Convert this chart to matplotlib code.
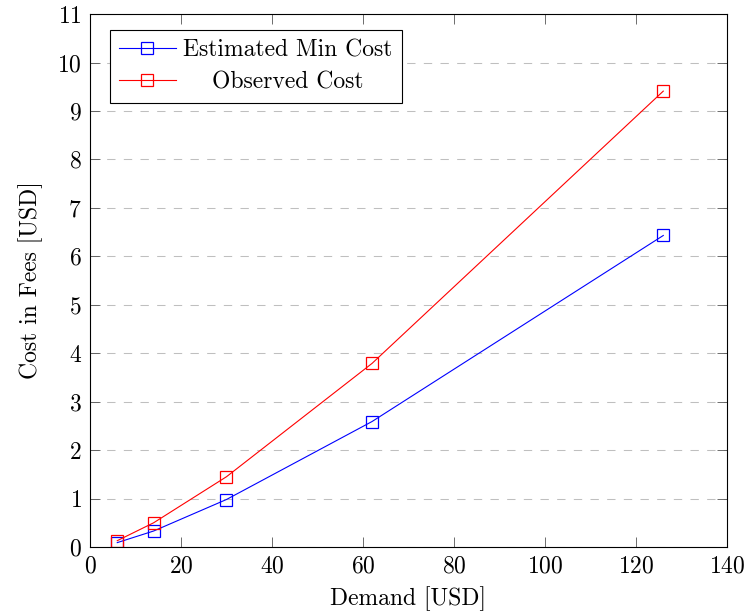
import numpy as np
import matplotlib
matplotlib.use("Agg")
import matplotlib.pyplot as plt

# ---------- DATA ----------
demand = [6, 14, 30, 62, 126]
est_min_cost = [0.09, 0.33, 0.98, 2.59, 6.43]
observed_cost = [0.13, 0.50, 1.45, 3.79, 9.41]
xticks = [0, 20, 40, 60, 80, 100, 120, 140]
yticks = list(range(0, 12))

# ---------- STYLE ----------
plt.rcParams['font.family'] = 'serif'
plt.rcParams['font.serif'] = ['cmr10', 'DejaVu Serif']
plt.rcParams['axes.formatter.use_mathtext'] = True
plt.rcParams['mathtext.fontset'] = 'cm'

fig = plt.figure(figsize=(7.46, 6.13), dpi=100)
ax = fig.add_axes([0.1206, 0.1077, 0.8539, 0.8693])

ax.plot(demand, est_min_cost, color='#0000ff', lw=0.8, marker='s', ms=8,
        mfc='none', mec='#0000ff', mew=0.9, label='Estimated Min Cost')
ax.plot(demand, observed_cost, color='#ff0000', lw=0.8, marker='s', ms=8,
        mfc='none', mec='#ff0000', mew=0.9, label='Observed Cost')

ax.set_xlim(0, 140)
ax.set_ylim(0, 11)
ax.set_xticks(xticks)
ax.set_yticks(yticks)
ax.tick_params(direction='in', length=7, width=0.6, top=True, right=True,
               labelsize=17, pad=6, color='#555555')
ax.yaxis.grid(True, color='#bfbfbf', linestyle=(0, (8, 8)), lw=0.75)
ax.set_axisbelow(True)
for s in ax.spines.values():
    s.set_linewidth(0.8)

ax.set_xlabel('Demand [USD]', fontsize=17, labelpad=6)
ax.set_ylabel('Cost in Fees [USD]', fontsize=17, labelpad=10)

leg = ax.legend(loc='upper left', bbox_to_anchor=(0.031, 0.97), fontsize=17,
                frameon=True, fancybox=False, edgecolor='black',
                framealpha=1, numpoints=1, handlelength=2.4,
                borderpad=0.4, labelspacing=0.4, handletextpad=0.3,
                borderaxespad=0)
leg.get_frame().set_linewidth(0.8)

# center the legend labels like pgfplots does
fig.canvas.draw()
texts = leg.get_texts()
widths = [t.get_window_extent().width for t in texts]
wmax = max(widths)
for t, w in zip(texts, widths):
    t.set_x((wmax - w) / 2)

plt.savefig('out.png', dpi=100)
